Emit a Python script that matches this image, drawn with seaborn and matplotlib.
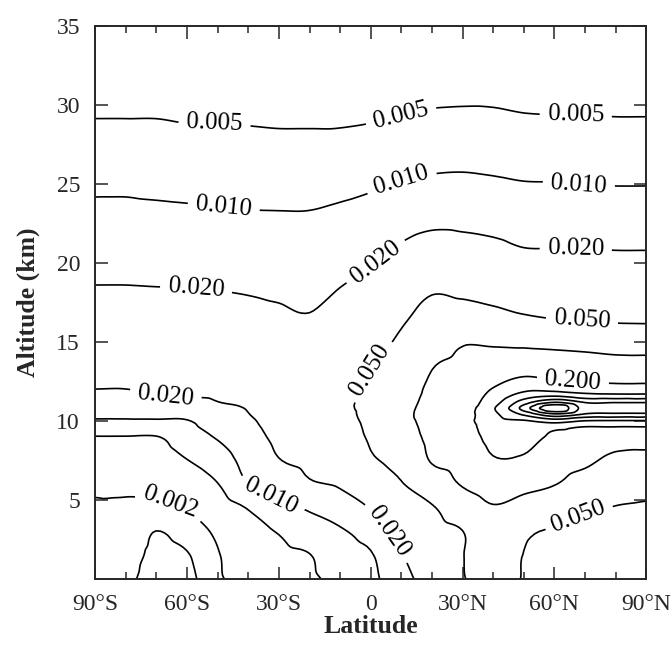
import numpy as np
import matplotlib
matplotlib.use("Agg")
import matplotlib.pyplot as plt
import matplotlib.tri as mtri
import seaborn as sns

# grid: latitude columns, altitude rows (km)
lats = [-90, -80, -70, -60, -50, -40, -30, -20, -10, 0, 10, 20, 30, 40, 50, 60, 70, 80, 90]
alts = [0, 1.5, 3, 4.5, 6, 7.5, 9, 9.6, 10, 10.4, 10.8, 11.2, 11.6, 12, 12.5, 13.5,
        15, 16.5, 18, 19.5, 21, 23, 25, 27, 29, 31, 35]

# estimated mixing ratio, one list per latitude (bottom -> top)
col_90s = [0.0014, 0.0015, 0.0017, 0.0019, 0.0022, 0.0033, 0.0049, 0.0073, 0.0094, 0.0111, 0.0129, 0.0149, 0.0173, 0.0199, 0.0211, 0.0237, 0.028, 0.0244, 0.0213, 0.0181, 0.015, 0.0116, 0.009, 0.0068, 0.0051, 0.0039, 0.0022]
col_80s = [0.0012, 0.0014, 0.0016, 0.0018, 0.0023, 0.0034, 0.0049, 0.0073, 0.0094, 0.0111, 0.0129, 0.0149, 0.0173, 0.0199, 0.0211, 0.0237, 0.028, 0.0244, 0.0213, 0.0181, 0.015, 0.0116, 0.009, 0.0068, 0.0051, 0.0039, 0.0022]
col_70s = [0.0007, 0.00083, 0.00099, 0.00166, 0.0025, 0.0035, 0.0049, 0.0073, 0.0094, 0.0115, 0.0138, 0.0166, 0.0199, 0.0208, 0.0219, 0.0242, 0.028, 0.0243, 0.0211, 0.0178, 0.0147, 0.0114, 0.0087, 0.0067, 0.0051, 0.0038, 0.0022]
col_60s = [0.0008, 0.00095, 0.00135, 0.0021, 0.0032, 0.0049, 0.0074, 0.0087, 0.0097, 0.0117, 0.0145, 0.018, 0.0204, 0.0211, 0.0222, 0.0243, 0.028, 0.0242, 0.021, 0.0175, 0.0144, 0.0111, 0.0085, 0.0065, 0.0049, 0.0038, 0.0022]
col_50s = [0.0018, 0.0019, 0.0023, 0.0034, 0.0049, 0.0072, 0.0106, 0.0126, 0.0141, 0.0158, 0.0178, 0.0199, 0.0207, 0.0213, 0.0221, 0.0239, 0.027, 0.0236, 0.0206, 0.0171, 0.0141, 0.0108, 0.0083, 0.0064, 0.0049, 0.0038, 0.0022]
col_40s = [0.0025, 0.0032, 0.004, 0.0052, 0.0099, 0.0126, 0.0158, 0.0174, 0.0185, 0.0197, 0.0205, 0.0212, 0.022, 0.0228, 0.0237, 0.0258, 0.025, 0.0224, 0.0199, 0.0165, 0.0136, 0.0105, 0.0081, 0.0063, 0.0048, 0.0037, 0.0022]
col_30s = [0.0035, 0.0042, 0.0052, 0.0085, 0.0131, 0.0195, 0.0228, 0.024, 0.025, 0.0259, 0.0269, 0.0279, 0.0289, 0.030, 0.0289, 0.0269, 0.0242, 0.0217, 0.019, 0.0159, 0.0132, 0.0104, 0.008, 0.0061, 0.0047, 0.0037, 0.0022]
col_20s = [0.0045, 0.0049, 0.0072, 0.0108, 0.0186, 0.0233, 0.0277, 0.0297, 0.0311, 0.0327, 0.0342, 0.0344, 0.033, 0.0318, 0.0303, 0.0276, 0.0239, 0.0207, 0.0178, 0.0152, 0.0129, 0.0104, 0.0081, 0.0061, 0.0047, 0.0037, 0.0022]
col_10s = [0.006, 0.0075, 0.0093, 0.0141, 0.0215, 0.0269, 0.0335, 0.0366, 0.0388, 0.0412, 0.0437, 0.044, 0.0422, 0.0404, 0.0383, 0.0344, 0.0292, 0.0248, 0.0211, 0.0176, 0.0145, 0.0112, 0.0085, 0.0063, 0.0047, 0.0037, 0.0022]
col_eq = [0.0085, 0.0095, 0.0131, 0.0206, 0.0308, 0.0461, 0.0542, 0.0565, 0.0581, 0.0596, 0.0589, 0.0575, 0.0561, 0.0548, 0.0531, 0.0495, 0.0402, 0.0323, 0.026, 0.0209, 0.0167, 0.0125, 0.0092, 0.0067, 0.0049, 0.0038, 0.0022]
col_10n = [0.016, 0.0193, 0.0257, 0.0352, 0.048, 0.0587, 0.0707, 0.076, 0.0798, 0.0839, 0.0824, 0.0794, 0.0764, 0.0735, 0.070, 0.0637, 0.0551, 0.0458, 0.0354, 0.0273, 0.0211, 0.0148, 0.0104, 0.0074, 0.0053, 0.0039, 0.0022]
col_20n = [0.027, 0.0326, 0.0394, 0.0475, 0.0719, 0.104, 0.118, 0.124, 0.128, 0.128, 0.124, 0.119, 0.115, 0.112, 0.107, 0.097, 0.0778, 0.0624, 0.0498, 0.0355, 0.0251, 0.0165, 0.0112, 0.0079, 0.0057, 0.0041, 0.0022]
col_30n = [0.048, 0.049, 0.0495, 0.0706, 0.104, 0.125, 0.150, 0.162, 0.170, 0.163, 0.156, 0.149, 0.142, 0.136, 0.129, 0.115, 0.0953, 0.0667, 0.0469, 0.0338, 0.0243, 0.0164, 0.0114, 0.0081, 0.0058, 0.0042, 0.0022]
col_40n = [0.060, 0.0702, 0.082, 0.096, 0.131, 0.190, 0.234, 0.248, 0.261, 0.274, 0.290, 0.258, 0.231, 0.206, 0.180, 0.138, 0.092, 0.0607, 0.0424, 0.031, 0.0226, 0.0156, 0.0109, 0.0079, 0.0057, 0.0042, 0.0022]
col_50n = [0.049, 0.0495, 0.054, 0.079, 0.119, 0.184, 0.245, 0.271, 0.290, 0.410, 0.540, 0.447, 0.347, 0.277, 0.226, 0.153, 0.0877, 0.0535, 0.038, 0.0275, 0.0199, 0.0144, 0.0103, 0.0075, 0.0054, 0.004, 0.0022]
col_60n = [0.042, 0.045, 0.048, 0.063, 0.102, 0.136, 0.182, 0.221, 0.347, 0.565, 0.800, 0.590, 0.390, 0.271, 0.210, 0.144, 0.084, 0.0495, 0.0366, 0.0268, 0.0197, 0.0142, 0.0102, 0.0074, 0.0053, 0.004, 0.0022]
col_70n = [0.036, 0.040, 0.045, 0.052, 0.077, 0.114, 0.170, 0.195, 0.295, 0.480, 0.560, 0.490, 0.340, 0.250, 0.195, 0.137, 0.080, 0.048, 0.0356, 0.0264, 0.0197, 0.014, 0.0099, 0.0073, 0.0053, 0.004, 0.0022]
col_80n = [0.034, 0.038, 0.043, 0.049, 0.064, 0.085, 0.142, 0.195, 0.290, 0.470, 0.550, 0.490, 0.330, 0.240, 0.190, 0.129, 0.075, 0.046, 0.0345, 0.0258, 0.0193, 0.0138, 0.0098, 0.0072, 0.0052, 0.0039, 0.0022]
col_90n = [0.032, 0.036, 0.041, 0.047, 0.060, 0.082, 0.137, 0.195, 0.290, 0.470, 0.550, 0.490, 0.330, 0.240, 0.190, 0.129, 0.0735, 0.0455, 0.0341, 0.0256, 0.0193, 0.0138, 0.0098, 0.0072, 0.0052, 0.0039, 0.0022]

labelled = [0.002, 0.005, 0.010, 0.020, 0.050, 0.200]
unlabelled = [0.001, 0.100, 0.300, 0.400, 0.500, 0.600, 0.700]
lat_ticks = [-90, -60, -30, 0, 30, 60, 90]
lat_labels = ['90°S', '60°S', '30°S', '0', '30°N', '60°N', '90°N']

columns = [col_90s, col_80s, col_70s, col_60s, col_50s, col_40s, col_30s, col_20s, col_10s, col_eq,
           col_10n, col_20n, col_30n, col_40n, col_50n, col_60n, col_70n, col_80n, col_90n]
field = np.log10(np.array(columns).T)  # rows = altitude, contoured in log space

# triangulate the grid; matplotlib's cubic refiner rounds off the isolines
lat_g, alt_g = np.meshgrid(lats, alts)
tri = mtri.Triangulation(lat_g.ravel() / 10.0, alt_g.ravel())
interp = mtri.CubicTriInterpolator(tri, field.ravel(), kind='geom')
tri_fine, field_fine = mtri.UniformTriRefiner(tri).refine_field(field.ravel(), triinterpolator=interp, subdiv=3)
tri_fine = mtri.Triangulation(tri_fine.x * 10.0, tri_fine.y, tri_fine.triangles)

sns.set_style('ticks')
plt.rcParams['font.family'] = ['Liberation Serif', 'DejaVu Serif']
plt.rcParams['axes.linewidth'] = 1.4

fig = plt.figure(figsize=(6.71, 6.52), dpi=100)
ax = fig.add_axes([0.142, 0.112, 0.821, 0.848])

ax.tricontour(tri_fine, field_fine, levels=np.log10(unlabelled), colors='black',
              linewidths=1.2, linestyles='solid')
cs = ax.tricontour(tri_fine, field_fine, levels=np.log10(labelled), colors='black',
                   linewidths=1.2, linestyles='solid')

fmt = {lev: '%.3f' % (10 ** lev) for lev in cs.levels}
label_spots = [(-51, 29.0), (10, 29.2), (67, 29.4),
               (-48, 23.6), (10, 25.2), (68, 25.0),
               (-57, 18.5), (2, 20.0), (67, 20.9),
               (69, 16.3), (-1, 13.3), (66, 12.4),
               (-67, 11.7), (-33, 5.0), (-66, 4.6),
               (6, 3.0), (67, 4.2)]
ax.clabel(cs, fmt=fmt, manual=label_spots, inline=True, inline_spacing=8, fontsize=18)

ax.set_xlim(-90, 90)
ax.set_ylim(0, 35)
ax.set_xticks(lat_ticks)
ax.set_xticklabels(lat_labels)
ax.set_xticks(range(-90, 91, 10), minor=True)
ax.set_yticks([5, 10, 15, 20, 25, 30, 35])
ax.tick_params(which='both', direction='in', top=True, right=True,
               labelsize=17, width=1.1, pad=11)
ax.tick_params(which='major', length=9)
ax.tick_params(which='minor', length=5)
ax.set_xlabel('Latitude', fontsize=18.5, fontweight='bold', labelpad=0)
ax.set_ylabel('Altitude (km)', fontsize=18.5, fontweight='bold', labelpad=12)

fig.savefig('out.png', dpi=100)
